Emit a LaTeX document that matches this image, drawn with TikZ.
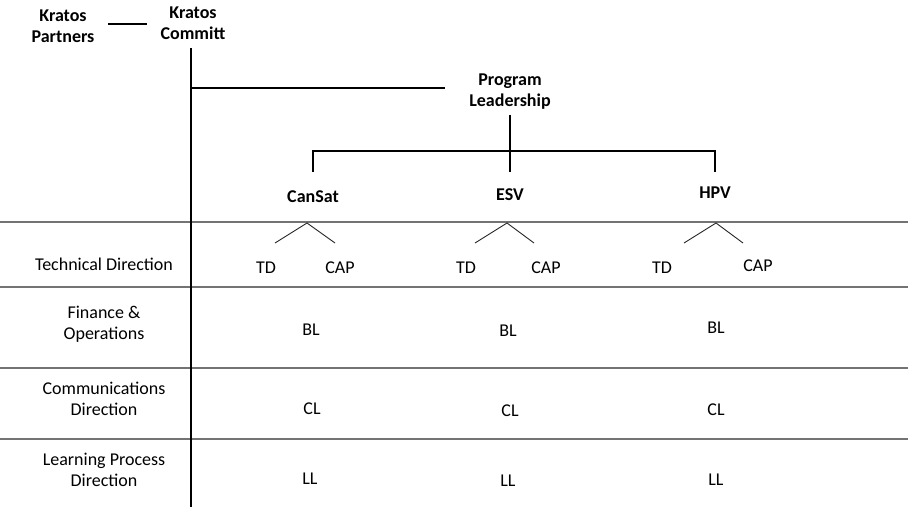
\documentclass[tikz,border=0pt]{standalone}
\usepackage{fontspec}
\setmainfont{Carlito}
\begin{document}
\begin{tikzpicture}[x=1pt,y=-1pt,
  lbl/.style={font=\fontsize{18}{21}\selectfont, align=center, inner sep=0pt},
  bold/.style={font=\fontsize{18}{21}\selectfont\bfseries, align=center, inner sep=0pt},
  heavy/.style={line width=2.6pt, black},
  rowline/.style={line width=1.3pt, black!55},
  caret/.style={line width=0.9pt, black!85}
]
\useasboundingbox (0,0) rectangle (908,508);

% row separators
\foreach \y/\n in {222/r1,287/r2,368/r3,439/r4}{
  \coordinate (\n L) at (0,\y);
  \coordinate (\n R) at (908,\y);
  \draw[rowline] (\n L) -- (\n R);
}

% top hierarchy
\node[bold] (partners) at (63,26) {Kratos\\Partners};
\node[bold] (committ) at (193,23) {Kratos\\Committ};
\node[bold] (prog) at (510,92) {Program\\Leadership};
\node[bold] (cansat) at (313,197) {CanSat};
\node[bold] (esv) at (510,195) {ESV};
\node[bold] (hpv) at (715,193) {HPV};

\coordinate (pcA) at (108,24);
\coordinate (pcB) at (147,24);
\draw[heavy] (pcA) -- (pcB);

\coordinate (spineTop) at (191,48);
\coordinate (spineBot) at (191,507);
\draw[heavy] (spineTop) -- (spineBot);

\coordinate (brL) at (191,88);
\coordinate (brR) at (445,88);
\draw[heavy] (brL) -- (brR);

\coordinate (progDown) at (510,115);
\coordinate (barMid) at (510,172);
\draw[heavy] (progDown) -- (barMid);

\coordinate (barL) at (313,151);
\coordinate (barR) at (715,151);
\coordinate (dropL) at (313,172);
\coordinate (dropR) at (715,172);
\draw[heavy] (dropL) -- (barL) -- (barR) -- (dropR);

% row labels
\node[lbl] (rowTD) at (104,264) {Technical Direction};
\node[lbl] (rowFO) at (104,324) {Finance \&\\Operations};
\node[lbl] (rowCD) at (104,399) {Communications\\Direction};
\node[lbl] (rowLP) at (104,470) {Learning Process\\Direction};

% carets and TD/CAP
\foreach \n/\a/\l/\r/\tdx/\capx/\capy in {c/307/275/335/266/340/268, e/507/475/534/466/546/268, h/716/684/743/662/758/266}{
  \coordinate (\n apex) at (\a,223);
  \coordinate (\n left) at (\l,243);
  \coordinate (\n right) at (\r,243);
  \draw[caret] (\n left) -- (\n apex) -- (\n right);
  \node[lbl] (\n TD) at (\tdx,268) {TD};
  \node[lbl] (\n CAP) at (\capx,\capy) {CAP};
}

% other cells
\node[lbl] (cBL) at (311,330) {BL};
\node[lbl] (eBL) at (508,331) {BL};
\node[lbl] (hBL) at (716,328) {BL};
\node[lbl] (cCL) at (312,409) {CL};
\node[lbl] (eCL) at (510,411) {CL};
\node[lbl] (hCL) at (716,410) {CL};
\node[lbl] (cLL) at (310,479) {LL};
\node[lbl] (eLL) at (508,481) {LL};
\node[lbl] (hLL) at (716,480) {LL};
\end{tikzpicture}
\end{document}
